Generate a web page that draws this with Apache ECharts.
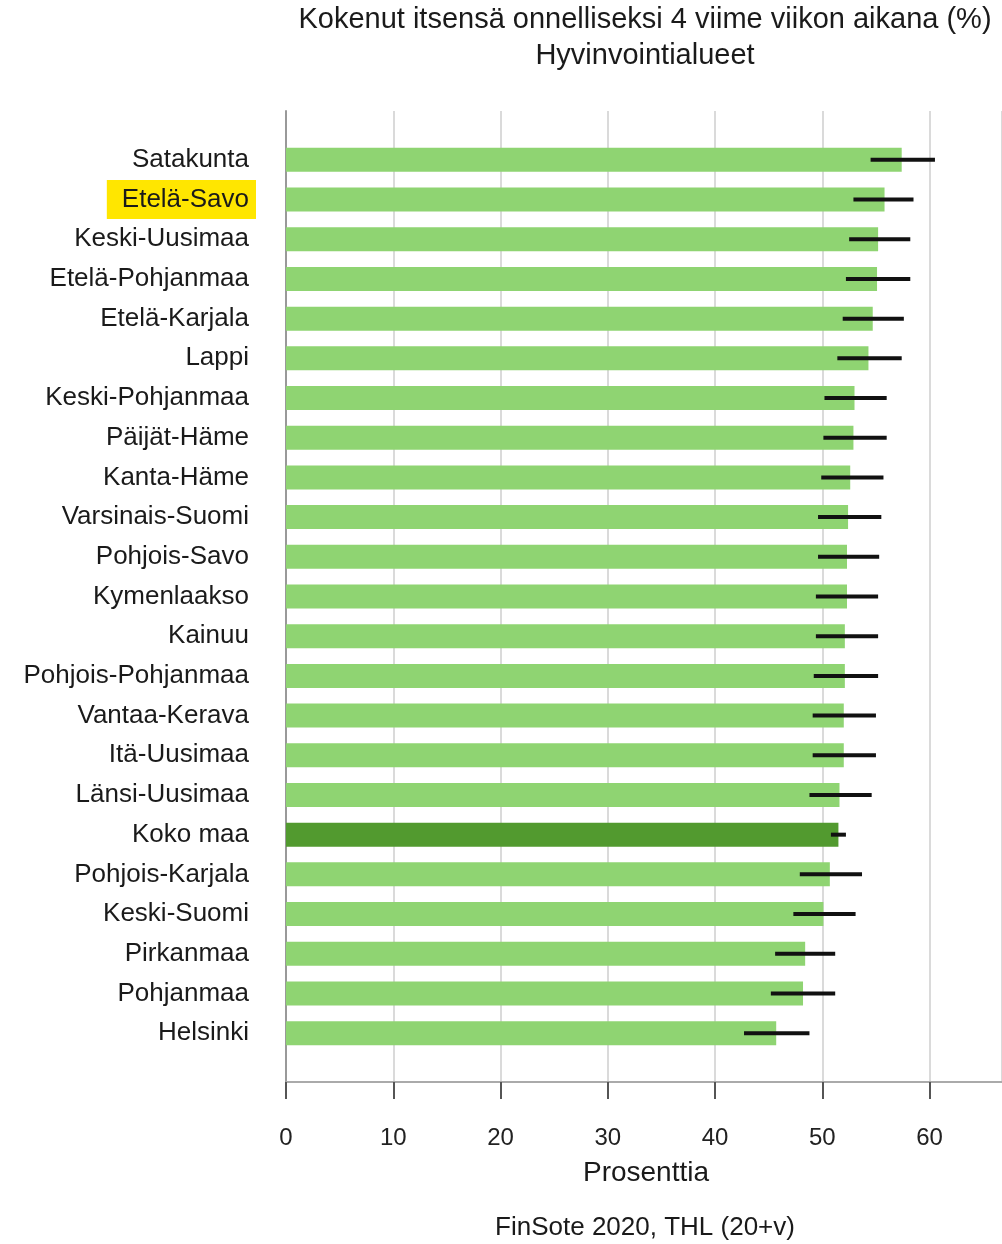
<!DOCTYPE html>
<html>
<head>
<meta charset="utf-8">
<script src="https://cdn.jsdelivr.net/npm/echarts@6/dist/echarts.min.js"></script>
<style>
  html, body { margin: 0; padding: 0; background: #fff; }
  #main { width: 1002px; height: 1244px; }
</style>
</head>
<body>
<div id="main"></div>
<script>
// alueet ylhäältä alas
const regions = ['Satakunta', 'Etelä-Savo', 'Keski-Uusimaa', 'Etelä-Pohjanmaa', 'Etelä-Karjala', 'Lappi',
  'Keski-Pohjanmaa', 'Päijät-Häme', 'Kanta-Häme', 'Varsinais-Suomi', 'Pohjois-Savo', 'Kymenlaakso',
  'Kainuu', 'Pohjois-Pohjanmaa', 'Vantaa-Kerava', 'Itä-Uusimaa', 'Länsi-Uusimaa', 'Koko maa',
  'Pohjois-Karjala', 'Keski-Suomi', 'Pirkanmaa', 'Pohjanmaa', 'Helsinki'];
const percent = [57.4, 55.8, 55.2, 55.1, 54.7, 54.3,
  53.0, 52.9, 52.6, 52.4, 52.3, 52.3,
  52.1, 52.1, 52.0, 52.0, 51.6, 51.5,
  50.7, 50.1, 48.4, 48.2, 45.7];
const lower = [54.5, 52.9, 52.5, 52.2, 51.9, 51.4,
  50.2, 50.1, 49.9, 49.6, 49.6, 49.4,
  49.4, 49.2, 49.1, 49.1, 48.8, 50.8,
  47.9, 47.3, 45.6, 45.2, 42.7];
const upper = [60.5, 58.5, 58.2, 58.2, 57.6, 57.4,
  56.0, 56.0, 55.7, 55.5, 55.3, 55.2,
  55.2, 55.2, 55.0, 55.0, 54.6, 52.2,
  53.7, 53.1, 51.2, 51.2, 48.8];
const xTicks = [0, 10, 20, 30, 40, 50, 60];
const xMax = 66.75;   // kuvan oikea reuna

const highlighted = 'Etelä-Savo';
const total = 'Koko maa';
const FONT = '"Liberation Sans", Arial, sans-serif';

const chart = echarts.init(document.getElementById('main'));

const barData = regions.map((r, i) => ({
  value: percent[i],
  itemStyle: { color: r === total ? '#529a2f' : '#8fd472' }
}));
const errData = regions.map((r, i) => [i, lower[i], upper[i]]);

const option = {
  backgroundColor: '#fff',
  animation: false,
  grid: [
    { left: 286, right: 0, top: 111, bottom: 162, outerBoundsMode: 'none' },   // kehys + asteikko
    { left: 286, right: 0, top: 140, bottom: 191, outerBoundsMode: 'none' }    // palkit
  ],
  xAxis: [
    {
      gridIndex: 0, type: 'value', min: 0, max: xMax, interval: 10,
      axisLine: { onZero: false, lineStyle: { color: '#555', width: 2 } },
      axisTick: { length: 17, lineStyle: { color: '#555', width: 2 } },
      axisLabel: {
        margin: 44, fontSize: 24, color: '#222', fontFamily: FONT,
        showMaxLabel: false,
        formatter: v => xTicks.indexOf(v) >= 0 ? String(v) : ''
      },
      splitLine: { lineStyle: { color: '#dadada', width: 2 } }
    },
    {
      gridIndex: 0, type: 'value', min: 0, max: xMax, position: 'top',
      axisLine: { lineStyle: { color: '#aaa', width: 2 } },
      axisTick: { show: false }, axisLabel: { show: false }, splitLine: { show: false }
    },
    { gridIndex: 1, type: 'value', min: 0, max: xMax, show: false }
  ],
  yAxis: [
    {
      gridIndex: 0, type: 'value', min: 0, max: 1,
      axisLine: { show: true, onZero: false, lineStyle: { color: '#999', width: 2 } },
      axisTick: { show: false }, axisLabel: { show: false }, splitLine: { show: false }
    },
    {
      gridIndex: 1, type: 'category', data: regions, inverse: true,
      axisLine: { show: false }, axisTick: { show: false },
      axisLabel: {
        margin: 30, fontSize: 26, color: '#1a1a1a', fontFamily: FONT,
        formatter: v => v === highlighted ? '{h|' + v + '}' : '{n|' + v + '}',
        rich: {
          n: { fontSize: 26, fontFamily: FONT, color: '#1a1a1a', padding: [0, 7, 0, 0] },
          h: { fontSize: 26, fontFamily: FONT, color: '#1a1a1a', backgroundColor: '#ffe600',
               padding: [7, 7, 6, 15] }
        }
      }
    }
  ],
  series: [
    {
      type: 'bar', xAxisIndex: 2, yAxisIndex: 1,
      data: barData, barWidth: 24
    },
    {
      type: 'custom', xAxisIndex: 2, yAxisIndex: 1,
      data: errData,
      encode: { y: 0, x: [1, 2] },
      z: 5,
      renderItem: (params, api) => {
        const a = api.coord([api.value(1), api.value(0)]);
        const b = api.coord([api.value(2), api.value(0)]);
        return {
          type: 'line',
          shape: { x1: a[0], y1: a[1], x2: b[0], y2: b[1] },
          style: { stroke: '#111', lineWidth: 4 }
        };
      }
    }
  ],
  graphic: [
    { type: 'text', x: 645, y: 20, style: { text: 'Kokenut itsensä onnelliseksi 4 viime viikon aikana (%)',
      font: '29px ' + FONT, fill: '#1a1a1a', align: 'center', verticalAlign: 'middle' } },
    { type: 'text', x: 645, y: 56, style: { text: 'Hyvinvointialueet',
      font: '29px ' + FONT, fill: '#1a1a1a', align: 'center', verticalAlign: 'middle' } },
    { type: 'text', x: 646, y: 1173, style: { text: 'Prosenttia',
      font: '28px ' + FONT, fill: '#1a1a1a', align: 'center', verticalAlign: 'middle' } },
    { type: 'text', x: 645, y: 1228, style: { text: 'FinSote 2020, THL (20+v)',
      font: '26px ' + FONT, fill: '#1a1a1a', align: 'center', verticalAlign: 'middle' } }
  ]
};

chart.setOption(option);
</script>
</body>
</html>
